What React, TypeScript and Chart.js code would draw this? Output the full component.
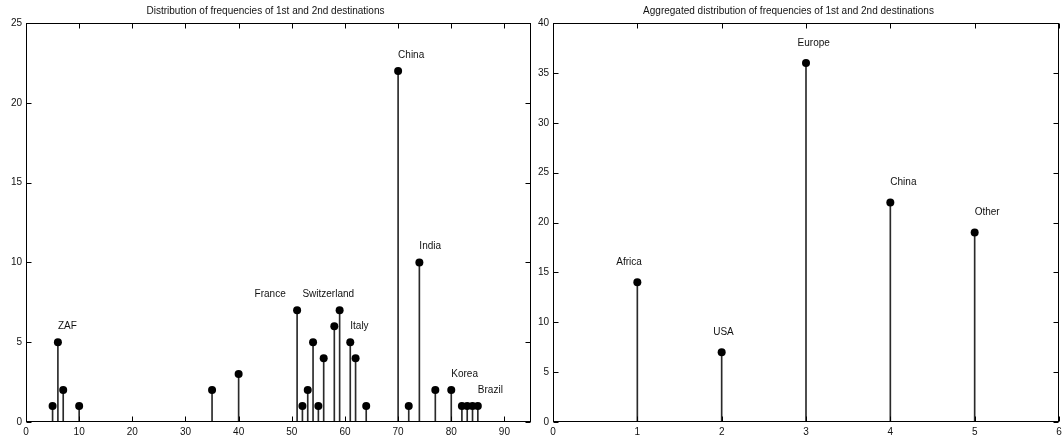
import React, { useEffect, useRef } from "react";
import { Chart, registerables } from "chart.js";
Chart.register(...registerables);

// ---- Left chart data ----
const leftTitle = "Distribution of frequencies of 1st and 2nd destinations";
const leftX = [5, 6, 7, 10, 35, 40, 51, 52, 53, 54, 55, 56, 58, 59, 61, 62, 64, 70, 72, 74, 77, 80, 82, 83, 84, 85];
const leftY = [1, 5, 2, 1, 2, 3, 7, 1, 2, 5, 1, 4, 6, 7, 5, 4, 1, 22, 1, 10, 2, 2, 1, 1, 1, 1];
const leftLabelText = ["ZAF", "France", "Switzerland", "Italy", "China", "India", "Korea", "Brazil"];
const leftLabelX = [6, 43, 52, 61, 70, 74, 80, 85];
const leftLabelY = [6, 8, 8, 6, 23, 11, 3, 2];
const leftXTicks = [0, 10, 20, 30, 40, 50, 60, 70, 80, 90];
const leftYTicks = [0, 5, 10, 15, 20, 25];
const leftXMax = 95;
const leftYMax = 25;

// ---- Right chart data ----
const rightTitle = "Aggregated distribution of frequencies of 1st and 2nd destinations";
const rightX = [1, 2, 3, 4, 5];
const rightY = [14, 7, 36, 22, 19];
const rightLabelText = ["Africa", "USA", "Europe", "China", "Other"];
const rightLabelX = [0.75, 1.9, 2.9, 4, 5];
const rightLabelY = [16, 9, 38, 24, 21];
const rightXTicks = [0, 1, 2, 3, 4, 5, 6];
const rightYTicks = [0, 5, 10, 15, 20, 25, 30, 35, 40];
const rightXMax = 6;
const rightYMax = 40;

const FONT = "'Liberation Sans', Arial, Helvetica, sans-serif";
const INK = "#111";

const framePlugin = {
  id: "frameTicksLabels",
  afterDraw(chart: any) {
    const { ctx, chartArea, scales } = chart;
    const o = chart.options.plugins.frameTicksLabels;
    const l = Math.round(chartArea.left) + 0.5;
    const r = Math.round(chartArea.right) - 0.5;
    const t = Math.round(chartArea.top) + 0.5;
    const b = Math.round(chartArea.bottom) - 0.5;
    ctx.save();
    ctx.strokeStyle = "#000";
    ctx.lineWidth = 1;
    const len = 5;
    ctx.beginPath();
    o.xTicks.forEach((v: number) => {
      const x = Math.round(scales.x.getPixelForValue(v)) + 0.5;
      ctx.moveTo(x, b);
      ctx.lineTo(x, b - len);
      ctx.moveTo(x, t);
      ctx.lineTo(x, t + len);
    });
    o.yTicks.forEach((v: number) => {
      const y = Math.round(scales.y.getPixelForValue(v)) + 0.5;
      ctx.moveTo(l, y);
      ctx.lineTo(l + len, y);
      ctx.moveTo(r, y);
      ctx.lineTo(r - len, y);
    });
    ctx.stroke();
    ctx.strokeRect(l, t, r - l, b - t);
    ctx.fillStyle = INK;
    ctx.font = "10px " + FONT;
    ctx.textAlign = "left";
    ctx.textBaseline = "middle";
    o.labels.forEach((s: string, i: number) => {
      ctx.fillText(s, scales.x.getPixelForValue(o.labelX[i]), scales.y.getPixelForValue(o.labelY[i]));
    });
    ctx.restore();
  },
};

type Props = {
  left: number;
  width: number;
  yWidth: number;
  padRight: number;
  title: string;
  xs: number[];
  ys: number[];
  labels: string[];
  labelX: number[];
  labelY: number[];
  xTicks: number[];
  yTicks: number[];
  xMax: number;
  yMax: number;
};

function StemChart(p: Props) {
  const ref = useRef<HTMLCanvasElement | null>(null);
  useEffect(() => {
    if (!ref.current) return;
    const pts = p.xs.map((x, i) => ({ x, y: p.ys[i] }));
    const chart = new Chart(ref.current, {
      type: "scatter",
      data: {
        datasets: [
          {
            type: "bar",
            data: pts,
            backgroundColor: "#2a2a2a",
            borderWidth: 0,
            barThickness: 1,
            order: 1,
          } as any,
          {
            type: "scatter",
            data: pts,
            pointRadius: 4,
            pointBackgroundColor: "#000",
            pointBorderColor: "#000",
            pointBorderWidth: 0,
            order: 0,
          },
        ],
      },
      plugins: [framePlugin],
      options: {
        responsive: false,
        maintainAspectRatio: false,
        animation: false,
        layout: { autoPadding: false, padding: { left: 0, right: p.padRight, top: 0, bottom: 0 } },
        plugins: {
          legend: { display: false },
          tooltip: { enabled: false },
          title: {
            display: true,
            text: p.title,
            color: INK,
            font: { family: FONT, size: 10, weight: "normal" },
            padding: { top: 5, bottom: 6 },
          },
          frameTicksLabels: {
            xTicks: p.xTicks,
            yTicks: p.yTicks,
            labels: p.labels,
            labelX: p.labelX,
            labelY: p.labelY,
          },
        } as any,
        scales: {
          x: {
            type: "linear",
            min: 0,
            max: p.xMax,
            offset: false,
            grid: { display: false, drawTicks: false, offset: false },
            border: { display: false },
            ticks: { color: INK, font: { family: FONT, size: 10 }, padding: 4, maxRotation: 0 },
            afterBuildTicks: (s: any) => {
              s.ticks = p.xTicks.map((v) => ({ value: v }));
            },
            afterFit: (s: any) => {
              s.height = 18;
              s.paddingLeft = 0;
              s.paddingRight = 0;
            },
          },
          y: {
            type: "linear",
            min: 0,
            max: p.yMax,
            grid: { display: false, drawTicks: false },
            border: { display: false },
            ticks: { color: INK, font: { family: FONT, size: 10 }, padding: 4 },
            afterBuildTicks: (s: any) => {
              s.ticks = p.yTicks.map((v) => ({ value: v }));
            },
            afterFit: (s: any) => {
              s.width = p.yWidth;
              s.paddingTop = 0;
              s.paddingBottom = 0;
            },
          },
        },
      },
    });
    return () => chart.destroy();
  }, []);
  return (
    <canvas
      ref={ref}
      width={p.width}
      height={440}
      style={{ position: "absolute", left: p.left, top: 0, width: p.width, height: 440, display: "block" }}
    />
  );
}

export default function App() {
  return (
    <div style={{ position: "absolute", left: 0, top: 0, width: 1062, height: 440, background: "#fff", overflow: "hidden" }}>
      <StemChart
        left={0}
        width={532}
        yWidth={26}
        padRight={1}
        title={leftTitle}
        xs={leftX}
        ys={leftY}
        labels={leftLabelText}
        labelX={leftLabelX}
        labelY={leftLabelY}
        xTicks={leftXTicks}
        yTicks={leftYTicks}
        xMax={leftXMax}
        yMax={leftYMax}
      />
      <StemChart
        left={518}
        width={544}
        yWidth={35}
        padRight={3}
        title={rightTitle}
        xs={rightX}
        ys={rightY}
        labels={rightLabelText}
        labelX={rightLabelX}
        labelY={rightLabelY}
        xTicks={rightXTicks}
        yTicks={rightYTicks}
        xMax={rightXMax}
        yMax={rightYMax}
      />
    </div>
  );
}
